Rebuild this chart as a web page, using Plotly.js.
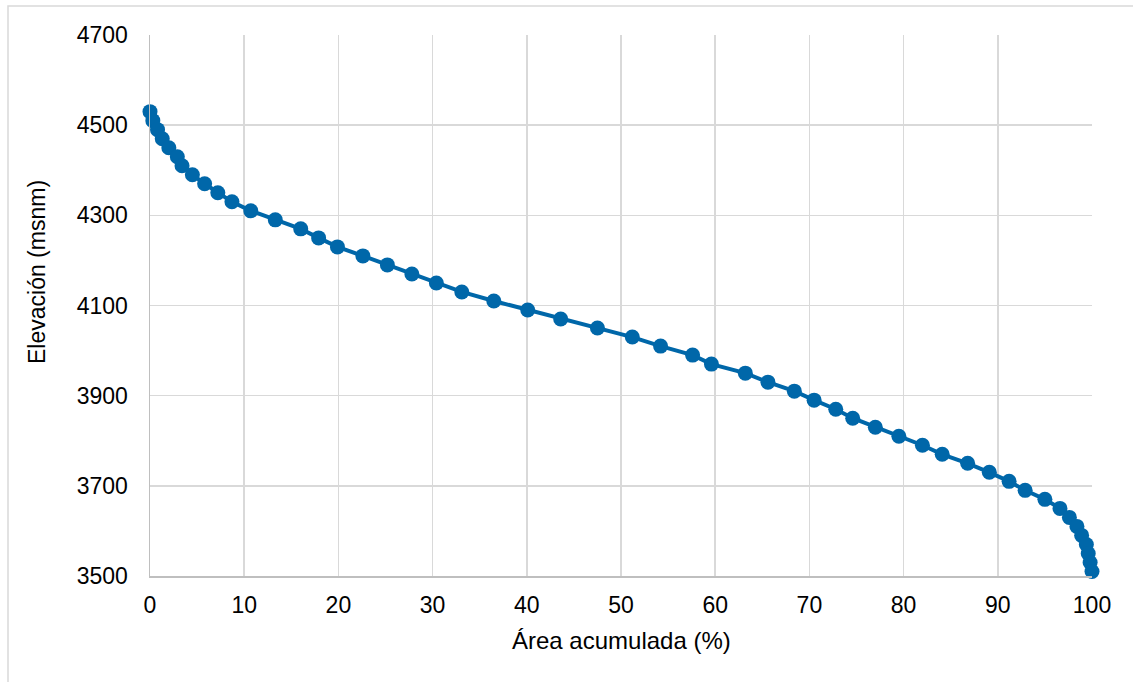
<!DOCTYPE html>
<html>
<head>
<meta charset="utf-8">
<script src="https://cdn.plot.ly/plotly-3.0.1.min.js"></script>
<style>
  html, body { margin: 0; padding: 0; background: #ffffff; }
  #chart { width: 1133px; height: 682px; }
</style>
</head>
<body>
<div id="chart"></div>
<script>
// Cumulative area (%)
const areaAcumulada = [
  0.0, 0.3, 0.8, 1.3, 2.0, 2.9, 3.4, 4.5, 5.8, 7.2,
  8.7, 10.7, 13.3, 16.0, 17.9, 19.9, 22.6, 25.2, 27.8, 30.4,
  33.1, 36.5, 40.1, 43.6, 47.5, 51.2, 54.2, 57.6, 59.6, 63.2,
  65.6, 68.4, 70.5, 72.8, 74.6, 77.0, 79.5, 82.0, 84.1, 86.8,
  89.1, 91.2, 92.9, 95.0, 96.6, 97.6, 98.4, 98.9, 99.4, 99.6,
  99.8, 100.0
];
// Elevation (m.s.n.m.)
const elevacion = [
  4530, 4510, 4490, 4470, 4450, 4430, 4410, 4390, 4370, 4350,
  4330, 4310, 4290, 4270, 4250, 4230, 4210, 4190, 4170, 4150,
  4130, 4110, 4090, 4070, 4050, 4030, 4010, 3990, 3970, 3950,
  3930, 3910, 3890, 3870, 3850, 3830, 3810, 3790, 3770, 3750,
  3730, 3710, 3690, 3670, 3650, 3630, 3610, 3590, 3570, 3550,
  3530, 3510
];
const xTitle = 'Área acumulada (%)';
const yTitle = 'Elevación (msnm)';

const blue = '#0067A9';
const fontFam = '"Liberation Sans", Arial, sans-serif';

const trace = {
  x: areaAcumulada,
  y: elevacion,
  type: 'scatter',
  mode: 'lines+markers',
  line: { color: blue, width: 4 },
  marker: { color: blue, size: 15 },
  cliponaxis: false,
  hoverinfo: 'skip'
};

const L = 150, R = 41, T = 35, B = 106, W = 1133, H = 682;
const pw = W - L - R, ph = H - T - B;
const px2x = p => (p - L) / pw;
const py2y = p => (H - B - p) / ph;

const layout = {
  width: W, height: H,
  margin: { l: L, r: R, t: T, b: B, pad: 0 },
  paper_bgcolor: '#ffffff',
  plot_bgcolor: '#ffffff',
  showlegend: false,
  font: { family: fontFam, size: 23, color: '#000000' },
  xaxis: {
    range: [0, 100],
    dtick: 10,
    tick0: 0,
    showgrid: true,
    gridcolor: '#D9D9D9',
    gridwidth: 1.5,
    zeroline: false,
    showline: true,
    linecolor: '#BFBFBF',
    linewidth: 1.5,
    ticks: '',
    ticklabelstandoff: 8,
    tickfont: { family: fontFam, size: 23, color: '#000000' }
  },
  yaxis: {
    range: [3500, 4700],
    dtick: 200,
    tick0: 3500,
    showgrid: true,
    gridcolor: '#D9D9D9',
    gridwidth: 1.5,
    zeroline: false,
    showline: true,
    linecolor: '#BFBFBF',
    linewidth: 1.5,
    ticks: '',
    ticklabelstandoff: 16,
    tickfont: { family: fontFam, size: 23, color: '#000000' }
  },
  annotations: [
    {
      text: xTitle, xref: 'paper', yref: 'paper',
      x: px2x(621), y: py2y(640), xanchor: 'center', yanchor: 'middle',
      showarrow: false, font: { family: fontFam, size: 24, color: '#000000' }
    },
    {
      text: yTitle, xref: 'paper', yref: 'paper',
      x: px2x(37), y: py2y(272), xanchor: 'center', yanchor: 'middle',
      textangle: -90,
      showarrow: false, font: { family: fontFam, size: 23, color: '#000000' }
    }
  ],
  shapes: [{
    type: 'rect', xref: 'paper', yref: 'paper',
    x0: px2x(8), x1: px2x(1145),
    y0: py2y(695), y1: py2y(6),
    line: { color: '#D9D9D9', width: 1.5 },
    fillcolor: 'rgba(0,0,0,0)',
    layer: 'below'
  }]
};

Plotly.newPlot('chart', [trace], layout, { displayModeBar: false, staticPlot: true });
</script>
</body>
</html>
